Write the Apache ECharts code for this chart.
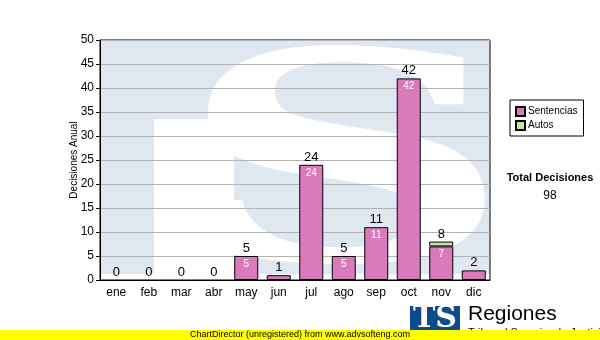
<!DOCTYPE html>
<html>
<head>
<meta charset="utf-8">
<script src="https://cdn.jsdelivr.net/npm/echarts@6/dist/echarts.min.js"></script>
<style>html,body{margin:0;padding:0;background:#fff;}#c{width:600px;height:340px;}</style>
</head>
<body>
<div id="c"></div>
<script>
var months = ['ene','feb','mar','abr','may','jun','jul','ago','sep','oct','nov','dic'];
var sentencias = [0,0,0,0,5,1,24,5,11,42,7,2];
var autos = [0,0,0,0,0,0,0,0,0,0,1,0];
var yTicks = {min:0, max:50, interval:5};

var totals = months.map(function(m,i){ return sentencias[i] + autos[i]; });
var grandTotal = totals.reduce(function(a,b){ return a+b; }, 0);
function hideZero(arr){ return arr.map(function(v){ return v === 0 ? '-' : v; }); }

var FONT = 'Liberation Sans';
var chart = echarts.init(document.getElementById('c'), null, {renderer:'canvas'});
chart.setOption({
  animation:false,
  backgroundColor:'#ffffff',
  textStyle:{fontFamily:FONT},
  grid:{left:100, right:110, top:40, bottom:60, show:true, borderColor:'#000', borderWidth:1, backgroundColor:'transparent'},
  legend:{
    orient:'vertical', left:510, top:100,
    data:['Sentencias','Autos'],
    backgroundColor:'#fff', borderColor:'#000', borderWidth:1,
    padding:[6,6,5,5], itemGap:3, itemWidth:9, itemHeight:9,
    icon:'rect',
    textStyle:{fontFamily:FONT, fontSize:10, color:'#000', padding:[0,0,0,-2]}
  },
  xAxis:{
    type:'category', data:months,
    axisLine:{lineStyle:{color:'#000', width:1}},
    axisTick:{alignWithLabel:true, length:4, lineStyle:{color:'#000'}},
    axisLabel:{color:'#000', fontSize:12, margin:7, fontFamily:FONT}
  },
  yAxis:{
    type:'value', min:yTicks.min, max:yTicks.max, interval:yTicks.interval,
    name:'Decisiones Anual', nameLocation:'middle', nameGap:21, nameMoveOverlap:false,
    nameTextStyle:{fontSize:10, color:'#000', fontFamily:FONT},
    axisLine:{show:true, lineStyle:{color:'#000', width:1}},
    axisTick:{show:true, length:4, lineStyle:{color:'#000'}},
    axisLabel:{color:'#000', fontSize:12, margin:6, fontFamily:FONT},
    splitLine:{lineStyle:{color:'#b4b4b4', width:1}}
  },
  series:[
    {name:'Sentencias', type:'bar', stack:'a', data:hideZero(sentencias), barWidth:24,
     itemStyle:{color:'#d97abb', borderColor:'#000', borderWidth:1},
     label:{show:true, position:'insideTop', distance:3, color:'#fff', fontSize:10,
       formatter:function(p){ return p.value >= 5 ? p.value : ''; }}},
    {name:'Autos', type:'bar', stack:'a', data:hideZero(autos), barWidth:24,
     itemStyle:{color:'#cce6a0', borderColor:'#000', borderWidth:1},
     label:{show:false}},
    {name:'Total', type:'bar', data:totals, barWidth:24, barGap:'-100%', z:1,
     itemStyle:{color:'rgba(0,0,0,0)', borderWidth:0},
     label:{show:true, position:'top', distance:1, color:'#000', fontSize:13,
       formatter:function(p){ return totals[p.dataIndex]; }}}
  ],
  graphic:[
    {type:'rect', z:-10, shape:{x:101, y:41, width:389, height:233}, style:{fill:'#dfe8f1'}},
    {type:'rect', z:-9, shape:{x:154, y:119, width:80, height:155}, style:{fill:'#ffffff'}},
    {type:'text', z:-8, x:345, y:185, scaleX:1.6, style:{text:'S', font:'bold 290px "DejaVu Serif"', fill:'#ffffff', textAlign:'center', textVerticalAlign:'middle'}},
    {type:'text', x:550, y:172, style:{text:'Total Decisiones', font:'bold 11px "Liberation Sans"', fill:'#000', textAlign:'center'}},
    {type:'text', x:550, y:190, style:{text:String(grandTotal), font:'12px "Liberation Sans"', fill:'#000', textAlign:'center'}},
    {type:'rect', shape:{x:410, y:306, width:50, height:34}, style:{fill:'#0d4a8e'}},
    {type:'text', x:435, y:319, style:{text:'TS', font:'bold 30px "DejaVu Serif"', fill:'#fff', textAlign:'center', textVerticalAlign:'middle'}},
    {type:'text', x:468, y:304, style:{text:'Regiones', font:'21px "Liberation Sans"', fill:'#000'}},
    {type:'text', x:468, y:327, style:{text:'Tribunal Superior de Justicia', font:'11px "Liberation Sans"', fill:'#000'}},
    {type:'rect', z:50, shape:{x:0, y:330, width:600, height:10}, style:{fill:'#ffff00'}},
    {type:'text', z:51, x:190, y:335, style:{text:'ChartDirector (unregistered) from www.advsofteng.com', font:'9px "Liberation Sans"', fill:'#000', textVerticalAlign:'middle'}}
  ]
});
</script>
</body>
</html>
